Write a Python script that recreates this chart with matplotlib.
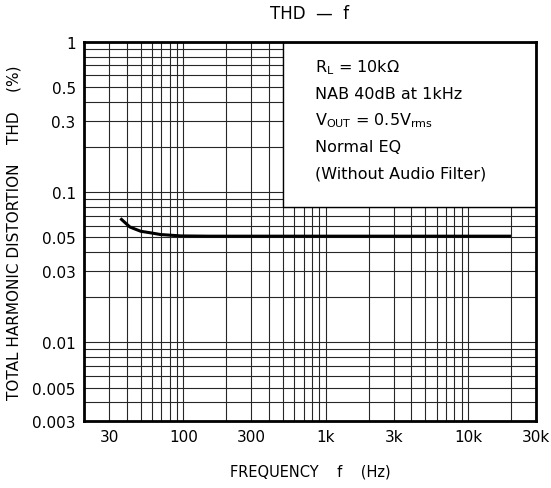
import matplotlib
matplotlib.use('Agg')
import matplotlib.pyplot as plt
from matplotlib.patches import Rectangle
import numpy as np

# THD vs frequency curve
freq = [36, 42, 50, 60, 69, 80, 96, 150, 300, 1000, 3000, 10000, 20000]
thd = [0.067, 0.0587, 0.055, 0.0535, 0.0523, 0.0518, 0.0512, 0.051, 0.051, 0.051, 0.051, 0.051, 0.051]

xticks = [30, 100, 300, 1000, 3000, 10000, 30000]
xlabels = ['30', '100', '300', '1k', '3k', '10k', '30k']
yticks = [1, 0.5, 0.3, 0.1, 0.05, 0.03, 0.01, 0.005, 0.003]
ylabels = ['1', '0.5', '0.3', '0.1', '0.05', '0.03', '0.01', '0.005', '0.003']

# grid lines of the log paper
xgrid = [m * 10 ** e for e in range(1, 5) for m in range(1, 10)]
ygrid = [m * 10 ** e for e in range(-3, 0) for m in range(1, 10)] + [1]

notes = [r'R$_\mathrm{L}$ = 10k$\Omega$',
         'NAB 40dB at 1kHz',
         r'V$_\mathrm{OUT}$ = 0.5V$_\mathrm{rms}$',
         'Normal EQ',
         '(Without Audio Filter)']

plt.rcParams['font.family'] = ['DejaVu Sans']
plt.rcParams['mathtext.fontset'] = 'dejavusans'

fig = plt.figure(figsize=(5.51, 4.89), dpi=100)
ax = fig.add_axes([0.1525, 0.137, 0.8203, 0.775])
ax.set_xscale('log')
ax.set_yscale('log')
ax.set_xlim(20, 30000)
ax.set_ylim(0.003, 1)

for g in xgrid:
    if 20 < g < 30000:
        ax.axvline(g, color='0.15', lw=0.8, zorder=1)
for g in ygrid:
    if 0.003 < g < 1:
        ax.axhline(g, color='0.15', lw=0.8, zorder=1)

# white note area in the upper right
ax.add_patch(Rectangle((500, 0.08), 30000 - 500, 1 - 0.08, facecolor='white',
                       edgecolor='black', lw=1.0, zorder=2))
for i, t in enumerate(notes):
    ax.text(0.511, 0.934 - i * 0.07, t, transform=ax.transAxes, fontsize=11.5,
            va='center', ha='left', zorder=3)

ax.plot(freq, thd, color='black', lw=2.2, zorder=4, solid_capstyle='butt')

ax.set_xticks(xticks)
ax.set_xticklabels(xlabels)
ax.set_yticks(yticks)
ax.set_yticklabels(ylabels)
ax.minorticks_off()
ax.tick_params(length=0, labelsize=11, pad=6)
for s in ax.spines.values():
    s.set_linewidth(2)

ax.set_title('THD  —  f', fontsize=12, pad=17)
ax.set_xlabel('FREQUENCY    f    (Hz)', fontsize=10.5, labelpad=14)
ax.set_ylabel('TOTAL HARMONIC DISTORTION    THD    (%)', fontsize=11, labelpad=8)

plt.savefig('out.png', dpi=100)
